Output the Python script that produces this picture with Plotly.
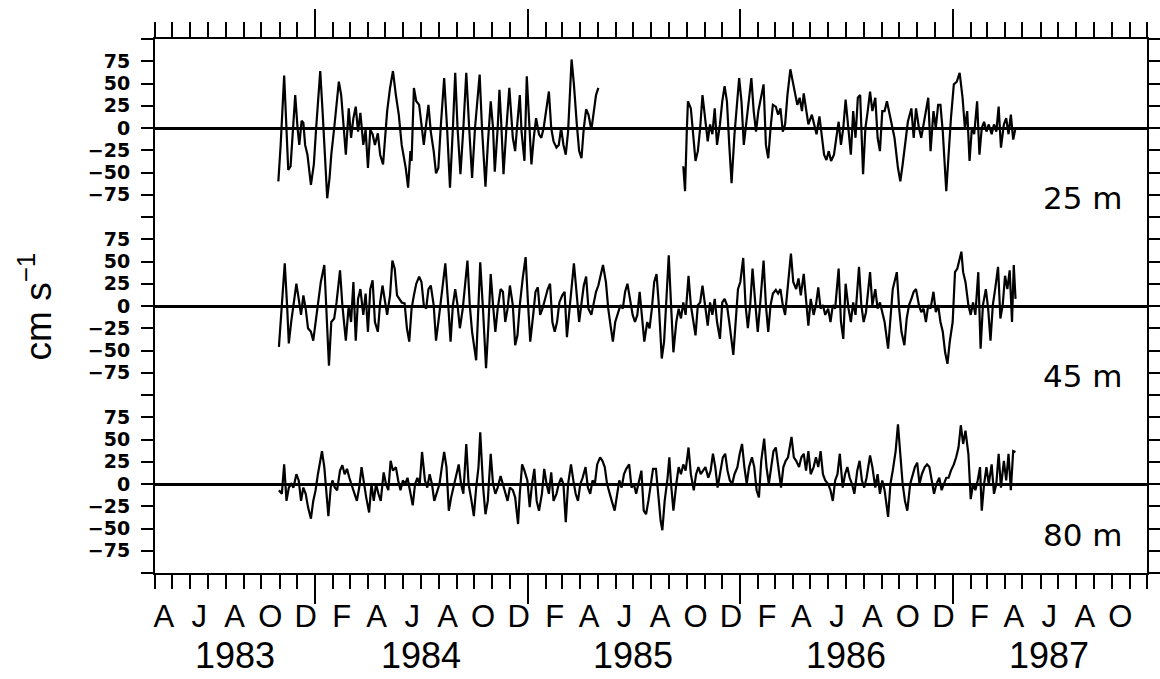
import pandas as pd
import plotly.graph_objects as go

# ---------------- data (days since 1983-10-13, current in cm/s) ----------------
ORIGIN = "1983-10-13"

pts_25a = [(17,-60),(21,-19),(27,59),(31,0),(34,-47),(38,-43),(42,-4),(46,37),(50,0),(53,-19),
           (57,8),(60,6),(63,-19),(67,-30),(73,-64),(78,-41),(82,0),(85,28),(89,64),(93,19),
           (97,-34),(101,-79),(105,-56),(108,-30),(113,0),(117,26),(121,52),(125,37),(129,0),(133,-30),
           (138,22),(142,-11),(146,11),(150,24),(154,-4),(158,17),(163,-19),(167,-2),(171,-45),(175,-2),
           (179,-7),(183,-19),(188,-6),(192,-30),(197,-41),(200,-19),(204,19),(209,45),(214,64),(219,37),
           (224,15),(229,-19),(236,-45),(240,-67),(244,-26),(246,-37),(250,45),(254,30),(259,26),(263,4),
           (267,-19),(271,4),(275,26),(279,-4),(284,-26),(288,-51),(292,-45),(296,0),(302,56),(307,0),
           (312,-67),(317,0),(321,62),(325,0),(330,-52),(335,0),(340,62),(345,0),(350,-56),(355,0),
           (363,60),(367,0),(373,-66),(377,-19),(382,30),(386,0),(389,-49),(394,0),(397,43),(400,7),
           (404,-52),(409,0),(414,45),(420,-11),(424,-26),(428,7),(432,37),(435,-4),(440,-37),(444,58),
           (448,0),(452,-41),(456,-11),(460,11),(465,-7),(469,-11),(473,0),(477,19),(482,41),(486,0),
           (490,-15),(495,-22),(499,-19),(503,0),(507,-19),(511,-30),(515,-4),(521,77),(525,49),(530,4),
           (534,-26),(538,-34),(542,0),(546,21),(550,15),(555,-2),(559,19),(563,37),(567,45)]

pts_25b = [(713,-43),(716,-71),(719,-4),(721,30),(726,22),(730,-11),(734,-37),(738,-26),(742,0),(746,37),
           (751,11),(755,-15),(759,4),(763,-7),(767,22),(771,-19),(776,4),(780,30),(784,47),(788,30),
           (792,-19),(796,-62),(801,-7),(805,30),(809,56),(813,30),(817,-19),(821,4),(826,37),(830,56),
           (834,19),(838,-4),(842,19),(847,37),(851,49),(855,-19),(859,-34),(863,0),(867,26),(872,24),
           (876,15),(880,22),(884,-4),(888,4),(892,37),(897,66),(901,52),(905,41),(909,26),(913,34),
           (917,19),(920,39),(924,22),(928,4),(934,15),(938,4),(942,-7),(947,13),(951,-11),(955,-30),
           (959,-36),(963,-26),(967,-37),(972,-30),(976,-11),(980,7),(984,-19),(988,0),(992,32),(997,-4),
           (1001,-30),(1005,19),(1009,-11),(1013,34),(1017,37),(1022,-52),(1026,0),(1030,19),(1034,41),(1038,19),
           (1043,34),(1047,-11),(1051,-26),(1055,19),(1059,19),(1063,30),(1068,15),(1072,4),(1076,-11),(1082,-45),
           (1086,-60),(1090,-41),(1094,-19),(1099,7),(1105,22),(1109,-11),(1113,22),(1118,0),(1122,-11),(1126,4),
           (1130,19),(1134,34),(1138,-26),(1143,19),(1147,0),(1151,26),(1155,26),(1159,-4),(1165,-71),(1169,-26),
           (1173,11),(1178,49),(1183,52),(1188,62),(1193,34),(1197,0),(1201,19),(1205,-37),(1209,0),(1213,-7),
           (1218,30),(1222,-30),(1226,0),(1230,7),(1234,-4),(1238,4),(1243,-7),(1247,4),(1251,-4),(1255,24),
           (1259,-22),(1264,4),(1268,11),(1272,-7),(1276,15),(1280,-13),(1284,0)]

pts_45 = [(18,-46),(23,1),(28,48),(32,1),(35,-42),(39,-18),(43,1),(48,25),(52,8),(56,-10),
          (60,12),(64,-3),(68,-25),(73,-29),(77,-39),(81,-18),(85,1),(90,27),(96,46),(100,-18),
          (104,-67),(108,-18),(113,-14),(117,4),(123,40),(127,1),(133,-39),(138,1),(142,-18),(146,27),
          (150,-39),(154,8),(158,19),(163,-10),(167,14),(171,-29),(175,19),(179,29),(183,-18),(188,-29),
          (192,4),(196,23),(200,8),(204,-10),(209,12),(213,51),(217,42),(221,12),(225,8),(229,4),
          (234,3),(238,-25),(242,-40),(246,-3),(250,12),(254,25),(259,33),(263,27),(267,1),(271,-3),
          (275,19),(279,23),(284,1),(288,-39),(292,-18),(296,4),(300,19),(304,48),(309,1),(313,-40),
          (317,1),(321,19),(325,1),(329,-25),(334,-3),(338,27),(342,51),(346,1),(350,-29),(357,-61),
          (361,1),(364,49),(369,-7),(374,-70),(378,-22),(382,36),(386,1),(390,-29),(394,-3),(399,19),
          (403,16),(407,-18),(411,-3),(415,23),(420,1),(424,-44),(428,-33),(432,1),(437,31),(442,55),
          (446,4),(450,-40),(455,-10),(459,16),(463,21),(467,-10),(471,-3),(475,8),(480,19),(484,25),
          (488,-18),(492,-29),(496,-18),(500,4),(505,12),(509,16),(513,-35),(517,-7),(521,19),(525,48),
          (529,19),(534,-18),(538,3),(542,23),(546,33),(550,-3),(555,-10),(559,4),(563,16),(567,23),
          (571,34),(575,46),(580,27),(584,-3),(588,-22),(592,-40),(596,-18),(600,-10),(605,1),(609,-3),
          (613,16),(617,25),(621,8),(626,-10),(630,-18),(634,-10),(638,16),(642,-14),(646,-40),(651,-18),
          (655,-25),(659,-3),(663,27),(667,36),(671,1),(676,-59),(680,-40),(684,8),(688,57),(692,1),
          (696,-52),(701,-18),(705,-3),(709,-14),(713,4),(717,-10),(722,34),(726,1),(730,-18),(734,-33),
          (738,1),(742,4),(746,23),(751,-3),(755,-22),(759,4),(763,-10),(767,8),(771,-18),(776,-37),
          (780,4),(784,8),(788,1),(792,-18),(796,-37),(799,-55),(803,-18),(807,19),(811,27),(816,54),
          (820,1),(824,-25),(828,1),(832,42),(837,1),(841,-29),(845,1),(851,51),(855,1),(859,-29),
          (863,1),(867,14),(872,18),(876,14),(880,19),(884,1),(888,-10),(892,19),(898,59),(902,27),
          (907,19),(911,31),(915,12),(920,36),(924,8),(928,-22),(932,8),(937,-10),(941,1),(945,21),
          (949,-3),(953,1),(957,-10),(962,-3),(966,-18),(970,1),(974,-3),(980,42),(984,-18),(988,-37),
          (992,25),(997,-3),(1001,-18),(1005,4),(1009,-10),(1015,44),(1019,1),(1023,-18),(1027,-7),(1034,38),
          (1038,1),(1043,19),(1047,-3),(1051,4),(1055,-7),(1059,-18),(1065,-48),(1069,-18),(1073,19),(1080,38),
          (1084,-3),(1088,-29),(1093,-44),(1097,-14),(1101,1),(1105,8),(1109,16),(1113,19),(1118,1),(1122,-7),
          (1126,-3),(1130,-18),(1134,1),(1138,-3),(1143,16),(1147,-7),(1151,1),(1155,-18),(1159,-29),(1163,-52),
          (1167,-65),(1171,-40),(1176,-18),(1180,38),(1184,42),(1191,61),(1194,38),(1198,27),(1203,1),(1207,-10),
          (1211,4),(1215,-10),(1220,38),(1224,-48),(1228,1),(1233,19),(1237,-3),(1241,-39),(1245,1),(1249,19),
          (1254,44),(1258,-14),(1262,1),(1266,34),(1270,19),(1274,40),(1278,-18),(1281,46),(1284,8)]

pts_80 = [(18,-7),(23,-11),(27,22),(31,-19),(35,-4),(39,0),(43,-4),(48,11),(52,4),(56,-19),
          (60,-4),(64,-11),(68,-26),(73,-39),(77,-19),(81,-7),(85,11),(92,37),(96,19),(100,-19),
          (103,-36),(107,-4),(110,4),(114,-4),(118,-7),(123,15),(127,21),(131,11),(135,17),(139,7),
          (143,0),(148,-11),(152,-19),(156,-4),(160,19),(164,0),(168,-15),(173,-32),(177,0),(181,-19),
          (185,0),(189,-11),(193,-19),(198,13),(202,0),(206,-7),(210,26),(214,15),(219,19),(223,4),
          (227,-7),(231,4),(235,0),(239,7),(244,-11),(248,-24),(252,0),(256,7),(260,0),(264,36),
          (269,4),(273,-4),(277,11),(281,0),(285,-19),(289,-11),(294,0),(298,19),(302,36),(306,19),
          (310,-30),(314,-15),(319,0),(323,11),(327,22),(331,0),(335,-11),(340,45),(344,0),(349,-19),
          (353,-36),(357,-4),(361,19),(364,58),(369,-4),(373,-34),(377,-19),(382,34),(386,0),(390,-11),
          (394,-4),(399,9),(403,0),(407,-11),(411,-19),(415,-4),(420,-7),(424,-15),(429,-45),(432,-11),
          (436,22),(440,15),(445,4),(449,-26),(453,0),(457,17),(461,-19),(465,-30),(470,-11),(474,17),
          (478,0),(482,-11),(486,13),(490,-19),(495,-11),(499,0),(503,7),(507,0),(511,-43),(515,0),
          (520,22),(524,4),(528,-11),(532,-19),(536,0),(540,7),(545,19),(549,-4),(553,-11),(557,4),
          (561,0),(565,22),(570,30),(574,26),(578,19),(582,0),(586,-11),(590,-19),(595,-30),(599,-11),
          (603,4),(607,-4),(611,11),(615,17),(620,22),(624,-4),(628,0),(632,-11),(636,0),(641,15),
          (645,-30),(649,-34),(653,-19),(657,0),(661,17),(666,17),(670,-11),(674,-41),(677,-52),(681,-19),
          (686,7),(689,30),(692,0),(696,-30),(701,0),(705,19),(709,11),(713,22),(717,15),(722,41),
          (726,11),(731,-7),(735,11),(739,19),(743,11),(747,15),(751,19),(756,7),(760,15),(764,34),
          (768,19),(772,-4),(776,11),(781,30),(785,34),(789,15),(793,4),(797,0),(801,11),(806,19),
          (810,34),(814,45),(818,19),(822,0),(826,19),(831,30),(835,19),(839,-7),(843,-15),(847,26),
          (852,51),(856,19),(860,0),(864,19),(868,37),(872,41),(877,15),(881,-4),(885,19),(889,26),
          (893,30),(899,53),(903,30),(907,26),(912,19),(916,30),(920,34),(924,15),(928,37),(932,11),
          (937,19),(941,30),(945,19),(949,37),(953,11),(957,4),(962,0),(966,-7),(970,-19),(974,4),
          (978,11),(982,34),(987,-4),(991,11),(995,19),(999,7),(1003,0),(1007,-11),(1012,15),(1016,26),
          (1020,4),(1024,-4),(1028,7),(1034,32),(1038,19),(1043,-4),(1047,11),(1051,-11),(1055,4),(1059,-7),
          (1065,-37),(1069,0),(1073,15),(1078,37),(1082,67),(1086,37),(1090,0),(1094,-19),(1098,-30),(1103,0),
          (1107,11),(1111,19),(1115,24),(1119,0),(1123,11),(1128,19),(1132,22),(1136,19),(1140,4),(1144,-11),
          (1148,0),(1153,7),(1157,-7),(1161,0),(1165,7),(1169,7),(1173,15),(1178,22),(1182,30),(1186,41),
          (1190,66),(1194,45),(1198,60),(1203,34),(1207,-17),(1211,0),(1215,-7),(1219,4),(1223,19),(1226,-30),
          (1230,0),(1234,19),(1238,0),(1243,22),(1247,-11),(1251,0),(1255,34),(1259,-4),(1264,26),(1268,4),
          (1272,34),(1276,-7),(1280,37),(1284,36)]

depth_labels = ["25 m", "45 m", "80 m"]
month_letters = ["A","J","A","O","D","F","A","J","A","O","D","F","A","J",
                 "A","O","D","F","A","J","A","O","D","F","A","J","A","O"]
year_labels = ["1983", "1984", "1985", "1986", "1987"]
year_label_dates = ["1983-08-16", "1984-07-01", "1985-07-01", "1986-07-01", "1987-06-16"]
year_starts = ["1984-01-01", "1985-01-01", "1986-01-01", "1987-01-01"]
ytick_vals = [-75, -50, -25, 0, 25, 50, 75]
ytick_text = ["\u221275", "\u221250", "\u221225", "0", "25", "50", "75"]
x_range = ["1983-04-01", "1987-12-01"]


def to_dates(pts):
    days = [p[0] for p in pts]
    return pd.Timestamp(ORIGIN) + pd.to_timedelta(days, unit="D")


def vals(pts):
    return [p[1] for p in pts]


fig = go.Figure()
line = dict(color="black", width=2.2)
for pts, ax in [(pts_25a, "y3"), (pts_25b, "y3"), (pts_45, "y2"), (pts_80, "y")]:
    fig.add_trace(go.Scatter(x=to_dates(pts), y=vals(pts), mode="lines", line=line,
                             xaxis="x", yaxis=ax, hoverinfo="skip"))

month_centers = pd.date_range("1983-04-01", "1987-10-01", freq="2MS") + pd.Timedelta(days=15)

base_x = dict(type="date", range=x_range, showgrid=False, zeroline=False, automargin=False)
tick_common = dict(tickwidth=2, tickcolor="black")

ycommon = dict(range=[-100, 100], tickmode="array", tickvals=ytick_vals, ticktext=ytick_text,
               ticks="outside", ticklen=12, tickwidth=2, tickcolor="black",
               minor=dict(tick0=0, dtick=25, ticks="outside", ticklen=12, tickwidth=2,
                          tickcolor="black", showgrid=False),
               showline=True, linewidth=2, linecolor="black", mirror="ticks",
               zeroline=True, zerolinecolor="black", zerolinewidth=2.5, showgrid=False,
               anchor="x", automargin=False, ticklabelstandoff=7,
               tickfont=dict(family="DejaVu Sans", size=19, color="black", weight="bold"))

fig.update_layout(
    template="none",
    width=1160, height=679,
    margin=dict(l=155, r=13, t=39, b=106, autoexpand=False),
    paper_bgcolor="white", plot_bgcolor="white",
    showlegend=False,
    xaxis=dict(**base_x, anchor="y", side="bottom", showline=True, linewidth=2, linecolor="black",
               ticks="outside", ticklen=14, **tick_common, tick0="1983-04-01", dtick="M1",
               showticklabels=False),
    xaxis2=dict(**base_x, overlaying="x", anchor="y3", side="top", showline=True, linewidth=2,
                linecolor="black", ticks="outside", ticklen=15, **tick_common,
                tick0="1983-04-01", dtick="M1", showticklabels=False),
    xaxis3=dict(**base_x, overlaying="x", anchor="y3", side="top", showline=False,
                tickmode="array", tickvals=year_starts, ticks="outside", ticklen=29,
                **tick_common, showticklabels=False),
    xaxis4=dict(**base_x, overlaying="x", anchor="y", side="bottom", showline=False,
                tickmode="array", tickvals=year_starts, ticks="outside", ticklen=30,
                **tick_common, showticklabels=False),
    xaxis5=dict(**base_x, overlaying="x", anchor="y", side="bottom", showline=False,
                tickmode="array", tickvals=list(month_centers), ticktext=month_letters,
                ticks="outside", ticklen=16, tickcolor="rgba(0,0,0,0)",
                tickfont=dict(family="Liberation Sans", size=31, color="black")),
    yaxis=dict(**ycommon, domain=[0, 1/3]),
    yaxis2=dict(**ycommon, domain=[1/3, 2/3]),
    yaxis3=dict(**ycommon, domain=[2/3, 1]),
)

# invisible traces so the overlay axes are drawn
for ax in ["x2", "x3", "x4", "x5"]:
    fig.add_trace(go.Scatter(x=[x_range[0]], y=[None], xaxis=ax, yaxis="y", mode="lines",
                             hoverinfo="skip", showlegend=False))

annotations = []
for lab, d in zip(year_labels, year_label_dates):
    annotations.append(dict(text=lab, x=d, xref="x", y=0, yref="paper", yanchor="middle",
                            yshift=-82, showarrow=False,
                            font=dict(family="Liberation Sans", size=36, color="black")))
for lab, yp in zip(depth_labels, [0.702, 0.368, 0.071]):
    annotations.append(dict(text=lab, x=0.978, xref="paper", xanchor="right", y=yp, yref="paper",
                            yanchor="middle", showarrow=False,
                            font=dict(family="DejaVu Sans", size=31, color="black")))
annotations.append(dict(text="cm s<sup>\u22121</sup>", x=-0.1205, xref="paper", xanchor="center",
                        y=0.50, yref="paper", yanchor="middle", textangle=-90, showarrow=False,
                        font=dict(family="Liberation Sans", size=37, color="black")))
fig.update_layout(annotations=annotations)

fig.write_html("out.html")
